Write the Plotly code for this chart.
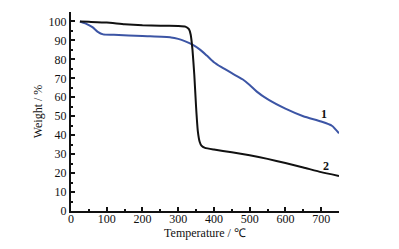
import plotly.graph_objects as go

# Curve 1 (blue)
t1 = [25, 40, 60, 75, 90, 120, 200, 280, 300, 320, 340, 360, 380, 400, 420, 450, 480, 500, 520, 550, 600, 650, 700, 730, 750]
w1 = [100, 99, 97, 94.5, 93.2, 93, 92.3, 91.6, 90.8, 89.5, 87.8, 85.3, 82, 78.5, 76, 72.7, 69.5, 66.5, 63, 59, 54, 50, 47.2, 45, 41]

# Curve 2 (black)
t2 = [25, 50, 100, 150, 200, 250, 300, 320, 330, 335, 340, 345, 350, 355, 360, 365, 375, 400, 450, 500, 550, 600, 650, 700, 750]
w2 = [100, 99.8, 99.4, 98.5, 98.0, 97.8, 97.6, 97.3, 96, 93, 85, 72, 55, 42, 36.5, 34.5, 33.3, 32.4, 31, 29.4, 27.5, 25.3, 23, 20.5, 18.5]

labels = ["1", "2"]
label_pos = [(709, 51), (714, 24)]

font_family = "Liberation Serif"

fig = go.Figure()
fig.add_trace(go.Scatter(x=t1, y=w1, mode="lines",
                         line=dict(color="#3c55a5", width=2, shape="spline", smoothing=0.6),
                         showlegend=False))
fig.add_trace(go.Scatter(x=t2, y=w2, mode="lines",
                         line=dict(color="#111111", width=2, shape="spline", smoothing=0.4),
                         showlegend=False))

for lab, (x, y) in zip(labels, label_pos):
    fig.add_annotation(x=x, y=y, text="<b>%s</b>" % lab, showarrow=False,
                       font=dict(family=font_family, size=12, color="#111111"))

axis_common = dict(showgrid=False, zeroline=False, showline=True, linecolor="#111111",
                   linewidth=2, ticks="inside", ticklen=4, tickwidth=1.5, tickcolor="#111111",
                   tickfont=dict(family=font_family, size=12, color="#111111"),
                   mirror=False, automargin=False)

fig.update_layout(
    width=391, height=241,
    margin=dict(l=63, r=60, t=4, b=38),
    paper_bgcolor="white", plot_bgcolor="white",
    xaxis=dict(range=[0, 750], dtick=100, tick0=0, ticklabelstandoff=-4,
               minor=dict(ticks="inside", dtick=50, ticklen=2, tickcolor="#111111"),
               title=dict(text="Temperature / ℃", font=dict(family=font_family, size=12, color="#111111"),
                          standoff=1),
               **axis_common),
    yaxis=dict(range=[0, 105], dtick=10, tick0=0,
               minor=dict(ticks="inside", dtick=5, ticklen=2, tickcolor="#111111"),
               title=dict(text="Weight / %", font=dict(family=font_family, size=12, color="#111111"),
                          standoff=3),
               **axis_common),
)

fig.write_html("out.html")
